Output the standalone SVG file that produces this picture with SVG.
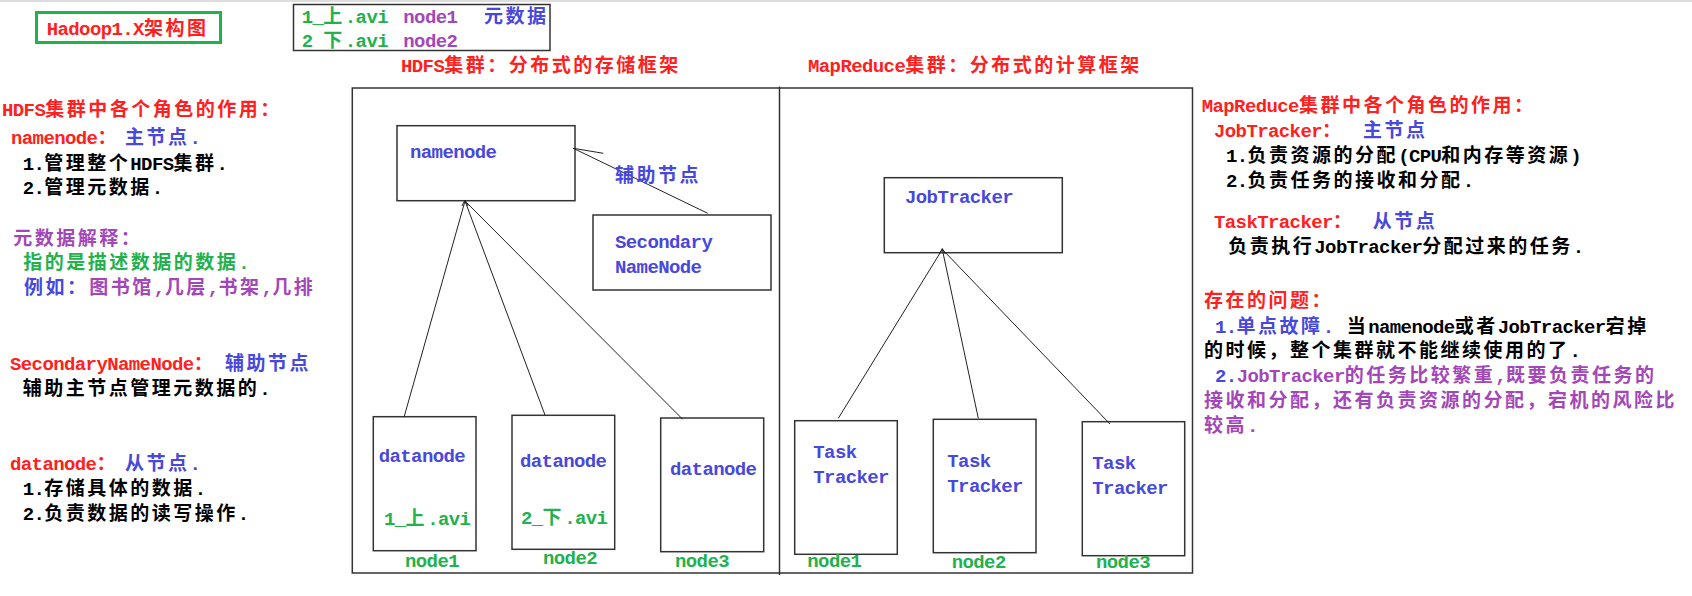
<svg xmlns="http://www.w3.org/2000/svg" width="1692" height="596" viewBox="0 0 1692 596">
<style>
text { font-family: "Liberation Mono", "Noto Sans CJK SC", monospace; font-size: 19px; font-weight: bold; letter-spacing: -0.6px; }
.c { letter-spacing: 2.5px; }
.r { fill: #ff2020; }
.b { fill: #4848dc; }
.p { fill: #a347b8; }
.g { fill: #22b14c; }
.k { fill: #000000; }
.box { fill: none; stroke: #333333; stroke-width: 1.5; }
.ln { fill: none; stroke: #222222; stroke-width: 1; }
</style>
<rect width="1692" height="596" fill="#ffffff"/>
<rect x="0" y="0" width="1692" height="2" fill="#dddddd"/>

<g id="title">
  <rect x="36.5" y="12.5" width="184" height="30" fill="none" stroke="#22b14c" stroke-width="3"/>
  <text x="46.7" y="35" class="r">Hadoop1.X<tspan class="c">架构图</tspan></text>
</g>

<g id="legend">
  <text x="301.7" y="22.7" class="g">1_<tspan class="c">上</tspan>.avi</text>
  <text x="403.3" y="22.7" class="p">node1</text>
  <text x="484" y="22.7" class="b"><tspan class="c">元数据</tspan></text>
  <text x="301.7" y="46.7" class="g">2 <tspan class="c">下</tspan>.avi</text>
  <text x="403.3" y="46.7" class="p">node2</text>
  <rect x="293.5" y="4.5" width="256.5" height="46" class="box"/>
</g>

<g id="hdfs-title">
  <text x="401" y="71.7" class="r">HDFS<tspan class="c">集群：分布式的存储框架</tspan></text>
</g>
<g id="mr-title">
  <text x="808" y="71.7" class="r">MapReduce<tspan class="c">集群：分布式的计算框架</tspan></text>
</g>

<g id="frame">
  <rect x="352.3" y="88" width="840.2" height="485" class="box"/>
  <line x1="779.5" y1="86.5" x2="779.5" y2="575" class="box"/>
</g>

<g id="namenode">
  <rect x="397" y="125.7" width="178" height="75" class="box"/>
  <text x="410" y="158" class="b">namenode</text>
</g>
<g id="secondarynamenode">
  <rect x="593" y="215" width="178" height="75" class="box"/>
  <text x="615" y="248" class="b">Secondary</text>
  <text x="615" y="272.7" class="b">NameNode</text>
</g>
<g id="datanode1">
  <rect x="373.3" y="416.7" width="102.7" height="134" class="box"/>
  <text x="378.7" y="461.7" class="b">datanode</text>
  <text x="384" y="525" class="g">1_<tspan class="c">上</tspan>.avi</text>
  <text x="405" y="566.7" class="g">node1</text>
</g>
<g id="datanode2">
  <rect x="512" y="415.3" width="102.7" height="134" class="box"/>
  <text x="520" y="466.7" class="b">datanode</text>
  <text x="521" y="524.3" class="g">2_<tspan class="c">下</tspan>.avi</text>
  <text x="543" y="564" class="g">node2</text>
</g>
<g id="datanode3">
  <rect x="660.7" y="418" width="103" height="133.7" class="box"/>
  <text x="670" y="475" class="b">datanode</text>
  <text x="675" y="566.7" class="g">node3</text>
</g>

<g id="jobtracker">
  <rect x="884.3" y="177.7" width="178" height="75" class="box"/>
  <text x="905" y="203.3" class="b">JobTracker</text>
</g>
<g id="tasktracker1">
  <rect x="794.7" y="420.7" width="102.6" height="133.6" class="box"/>
  <text x="813.3" y="458.3" class="b">Task</text>
  <text x="813.3" y="483.3" class="b">Tracker</text>
  <text x="807.3" y="566.7" class="g">node1</text>
</g>
<g id="tasktracker2">
  <rect x="933.3" y="419.3" width="102.7" height="133.4" class="box"/>
  <text x="947.3" y="466.7" class="b">Task</text>
  <text x="947.3" y="492.3" class="b">Tracker</text>
  <text x="951.7" y="568.3" class="g">node2</text>
</g>
<g id="tasktracker3">
  <rect x="1082.3" y="421.7" width="102.4" height="134" class="box"/>
  <text x="1092.3" y="469.3" class="b">Task</text>
  <text x="1092.3" y="494.3" class="b">Tracker</text>
  <text x="1096" y="568.3" class="g">node3</text>
</g>

<g id="connectors">
  <path d="M465,201 L404,417.3 M465,201 L545,415 M465,201 L682.7,419.3" class="ln"/>
  <path d="M462,206 L465,200 L468,206" class="ln"/>
  <path d="M942.3,249.3 L838.3,418.3 M942.3,249.3 L978.3,418.3 M942.3,249.3 L1110,424" class="ln"/>
  <path d="M939.3,254 L942.3,248.5 L945.3,254" class="ln"/>
  <path d="M707.7,213.3 L573.3,148.3 L603.3,153.3" class="ln"/>
  <text x="615" y="181.7" class="b"><tspan class="c">辅助节点</tspan></text>
</g>

<g id="hdfs-notes">
  <text x="2" y="116" class="r">HDFS<tspan class="c">集群中各个角色的作用：</tspan></text>
  <text x="11" y="144" class="r">namenode<tspan class="c">：</tspan></text>
  <text x="125" y="144" class="b"><tspan class="c">主节点</tspan>.</text>
  <text x="22.7" y="170" class="k">1.<tspan class="c">管理整个</tspan>HDFS<tspan class="c">集群</tspan>.</text>
  <text x="22.7" y="194" class="k">2.<tspan class="c">管理元数据</tspan>.</text>
  <text x="13.3" y="245" class="p"><tspan class="c">元数据解释：</tspan></text>
  <text x="23.3" y="269" class="g"><tspan class="c">指的是描述数据的数据</tspan>.</text>
  <text x="24" y="294" class="b"><tspan class="c">例如：</tspan></text>
  <text x="89.3" y="294" class="p"><tspan class="c">图书馆</tspan>,<tspan class="c">几层</tspan>,<tspan class="c">书架</tspan>,<tspan class="c">几排</tspan></text>
  <text x="10" y="370" class="r">SecondaryNameNode<tspan class="c">：</tspan></text>
  <text x="225" y="370" class="b"><tspan class="c">辅助节点</tspan></text>
  <text x="22.7" y="395" class="k"><tspan class="c">辅助主节点管理元数据的</tspan>.</text>
  <text x="10" y="470" class="r">datanode<tspan class="c">：</tspan></text>
  <text x="125" y="470" class="b"><tspan class="c">从节点</tspan>.</text>
  <text x="22.7" y="495" class="k">1.<tspan class="c">存储具体的数据</tspan>.</text>
  <text x="22.7" y="520" class="k">2.<tspan class="c">负责数据的读写操作</tspan>.</text>
</g>

<g id="mr-notes">
  <text x="1201.7" y="111.7" class="r">MapReduce<tspan class="c">集群中各个角色的作用：</tspan></text>
  <text x="1214" y="136.7" class="r">JobTracker<tspan class="c">：</tspan></text>
  <text x="1363" y="136.7" class="b"><tspan class="c">主节点</tspan></text>
  <text x="1226" y="161.7" class="k">1.<tspan class="c">负责资源的分配</tspan>(CPU<tspan class="c">和内存等资源</tspan>)</text>
  <text x="1226" y="187.3" class="k">2.<tspan class="c">负责任务的接收和分配</tspan>.</text>
  <text x="1214" y="228.3" class="r">TaskTracker<tspan class="c">：</tspan></text>
  <text x="1372.7" y="228.3" class="b"><tspan class="c">从节点</tspan></text>
  <text x="1228.3" y="253.3" class="k"><tspan class="c">负责执行</tspan>JobTracker<tspan class="c">分配过来的任务</tspan>.</text>
  <text x="1204" y="306.7" class="r"><tspan class="c">存在的问题：</tspan></text>
  <text x="1215" y="332.7" class="b">1.<tspan class="c">单点故障</tspan>.</text>
  <text x="1346.7" y="332.7" class="k"><tspan class="c">当</tspan>namenode<tspan class="c">或者</tspan>JobTracker<tspan class="c">宕掉</tspan></text>
  <text x="1204" y="357.3" class="k"><tspan class="c">的时候，整个集群就不能继续使用的了</tspan>.</text>
  <text x="1215" y="381.7" class="b">2.</text>
  <text x="1236.7" y="381.7" class="p">JobTracker<tspan class="c">的任务比较繁重</tspan>,<tspan class="c">既要负责任务的</tspan></text>
  <text x="1204" y="406.7" class="p"><tspan class="c">接收和分配，还有负责资源的分配，宕机的风险比</tspan></text>
  <text x="1204" y="431.7" class="p"><tspan class="c">较高</tspan>.</text>
</g>
</svg>
